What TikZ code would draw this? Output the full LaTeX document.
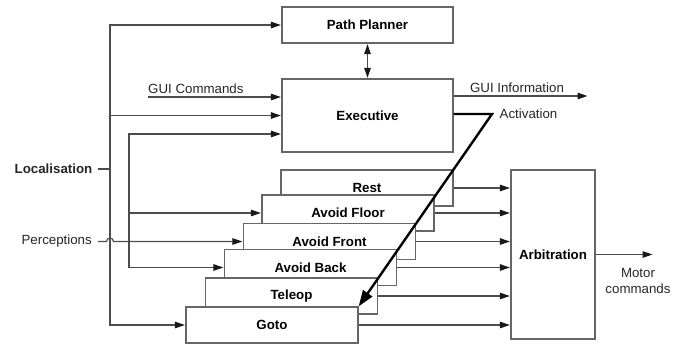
\documentclass[tikz,border=0pt]{standalone}
\usepackage{fontspec}
\setmainfont{Liberation Sans}
\usetikzlibrary{arrows.meta}
\begin{document}
\begin{tikzpicture}[x=1pt,y=-1pt,
  font=\fontsize{13.3}{15.5}\selectfont,
  wire/.style={draw=black!70,line width=1.2pt},
  arr/.style={wire,-{Triangle[length=10pt,width=6.5pt,color=black!90]},shorten >=0.5pt},
  block/.style={draw=black!60,line width=1.3pt,fill=white,inner sep=0pt,
     minimum width=172pt,minimum height=36pt,font=\fontsize{13.3}{15.5}\selectfont\bfseries},
  lbl/.style={inner sep=0pt,text=black!85},
  act/.style={draw=black,line width=2.4pt,-{Triangle[length=16pt,width=11pt]}}
]
\useasboundingbox (0,0) rectangle (685,343);

% main boxes
\node[block,minimum width=171pt] (pp) at (367.5,25) {Path Planner};
\node[block,minimum width=171pt,minimum height=73pt] (exec) at (367.5,115.5) {Executive};
\node[block,minimum width=84pt,minimum height=169pt] (arb) at (553,254.5) {Arbitration};

% stacked behaviour boxes
\node[block] (rest)   at (367,188)   {Rest};
\node[block] (afloor) at (348,213)   {Avoid Floor};
\node[block] (afront) at (329.5,241.5) {Avoid Front};
\node[block] (aback)  at (310.5,267.5) {Avoid Back};
\node[block] (teleop) at (291.5,296) {Teleop};
\node[block] (goto)   at (272,325)   {Goto};

% left labels
\node[lbl,anchor=east,font=\fontsize{13.3}{15.5}\selectfont\bfseries] (loc) at (92.5,169) {Localisation};
\node[lbl,anchor=east] (perc) at (92,241.5) {Perceptions};

\coordinate (lj) at (110,169);
\coordinate (pj) at (129,241.5);

% localisation wiring
\draw[wire] ([xshift=5pt]loc.east) -- (lj);
\draw[arr] (lj) |- (pp.west);
\draw[arr] (lj) |- (exec.west);
\draw[arr] (lj) |- (goto.west);

% perceptions wiring
\draw[arr] ([xshift=6pt]perc.east) -- (106.5,241.5) arc[start angle=180,end angle=360,radius=3.5] -- (afront.west);
\draw[arr] (pj) |- ([yshift=-18.5pt]exec.west);
\draw[arr] (pj) |- (afloor.west);
\draw[arr] (pj) |- (aback.west);

% GUI commands
\coordinate (gcin) at (148,97);
\node[lbl,anchor=south west] (gcl) at (148,93.5) {GUI Commands};
\draw[arr] (gcin) -- (gcin -| exec.west);

% path planner <-> executive
\draw[wire,{Triangle[length=10pt,width=6.5pt,color=black!90]}-{Triangle[length=10pt,width=6.5pt,color=black!90]},shorten <=0.5pt,shorten >=0.5pt] (pp.south) -- (exec.north);

% GUI information
\coordinate (guiout) at (588,96);
\draw[arr] (guiout -| exec.east) -- (guiout);
\node[lbl,anchor=south] (gil) at (517,92.5) {GUI Information};

% activation
\coordinate (actk) at (492,114);
\draw[act] (actk -| exec.east) -- (actk) -- (goto.north east);
\node[lbl,anchor=west] (actl) at (499.5,114) {Activation};

% behaviours -> arbitration
\foreach \b in {rest,afloor,afront,aback,teleop,goto}
  \draw[arr] (\b.east) -- (\b.east -| arb.west);

% motor commands
\coordinate (mout) at (653,254.5);
\draw[arr] (arb.east) -- (mout);
\node[lbl,align=center] (mc) at (638,281) {Motor\\commands};
\end{tikzpicture}
\end{document}
